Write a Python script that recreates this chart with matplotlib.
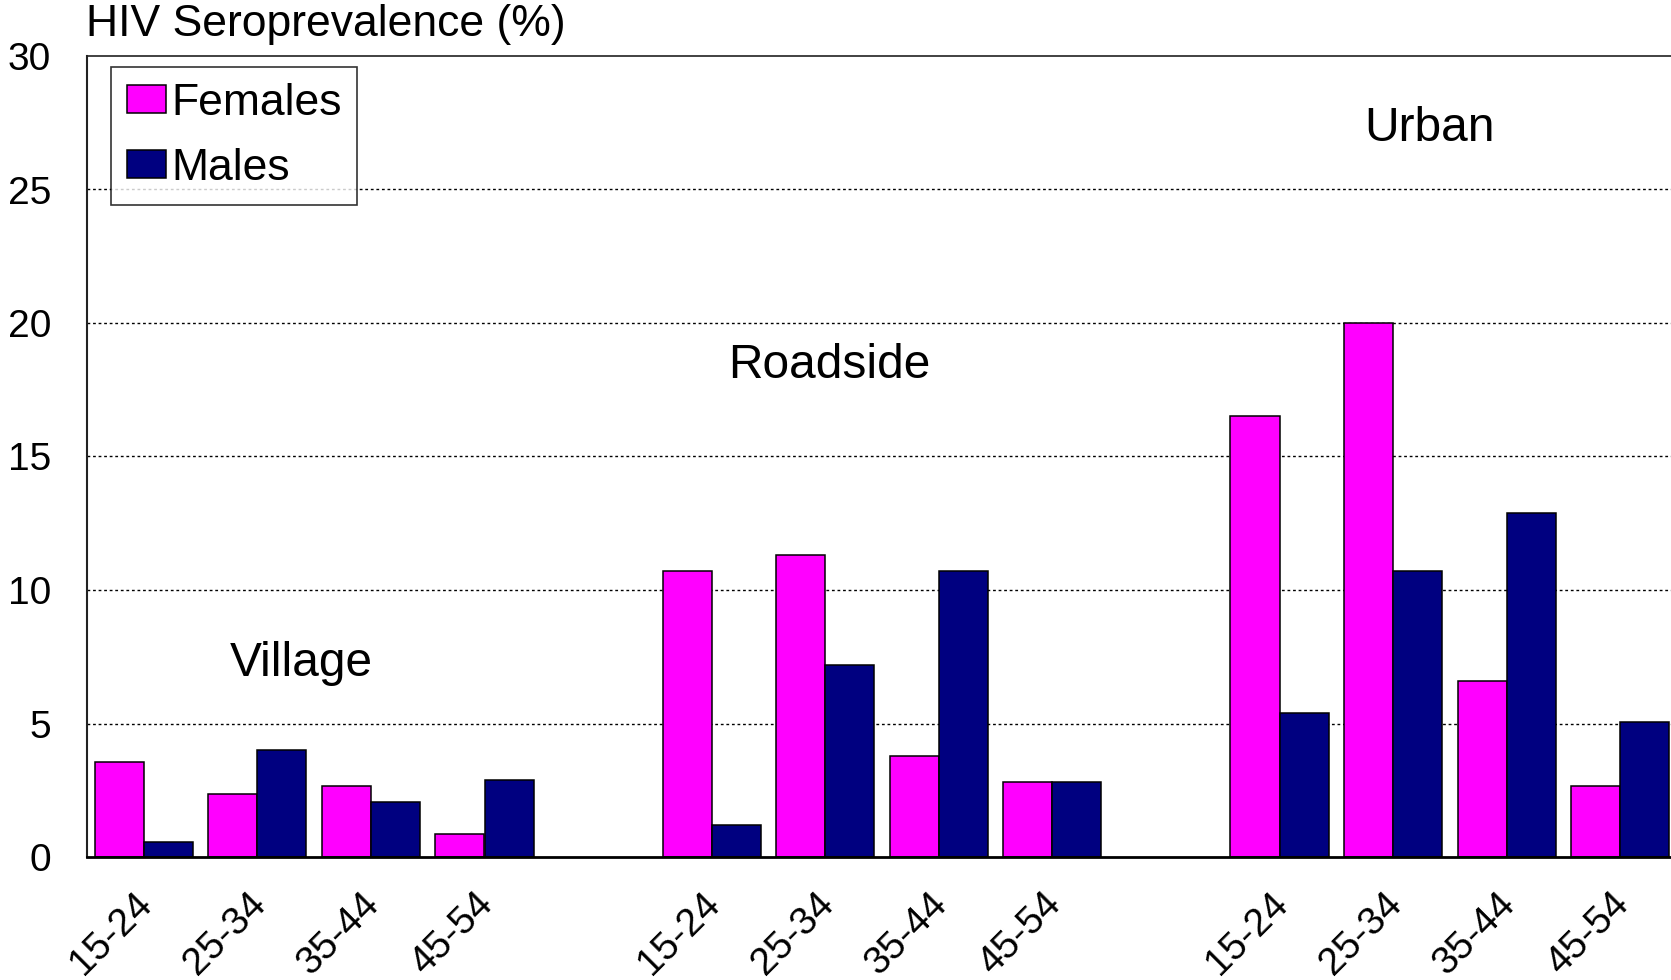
import matplotlib
matplotlib.use("Agg")
import matplotlib.pyplot as plt
import matplotlib.transforms as mtransforms
import numpy as np

plt.rcParams['font.family'] = ['Liberation Sans', 'DejaVu Sans']

settings = ['Village', 'Roadside', 'Urban']
ages = ['15-24', '25-34', '35-44', '45-54']
females = [3.55, 2.35, 2.65, 0.85,
           10.7, 11.3, 3.8, 2.8,
           16.5, 20.0, 6.6, 2.65]
males = [0.55, 4.0, 2.05, 2.9,
         1.2, 7.2, 10.7, 2.8,
         5.4, 10.7, 12.9, 5.05]
yticks = [0, 5, 10, 15, 20, 25, 30]

W, H = 1671, 980
fig = plt.figure(figsize=(W / 100, H / 100), dpi=100)
ax = fig.add_axes([87 / W, (H - 857) / H, 1590 / W, 801 / H])

x = np.array([i * (len(ages) + 1) + j for i in range(len(settings)) for j in range(len(ages))], dtype=float)
bw = 0.432
ax.bar(x - bw / 2, females, bw, color='#FF00FF', edgecolor='black', linewidth=1.1, label='Females', zorder=3)
ax.bar(x + bw / 2, males, bw, color='#000080', edgecolor='black', linewidth=1.1, label='Males', zorder=3)

ax.set_xlim(-0.5, x.max() + 0.5)
ax.set_ylim(0, 30)
ax.set_yticks(yticks)
ax.set_yticklabels([str(v) for v in yticks], fontsize=28)
ax.tick_params(axis='y', length=0, pad=26)

ax.set_xticks(x)
ax.set_xticklabels([a for _ in settings for a in ages], fontsize=28, rotation=45,
                   ha='right', va='center', rotation_mode='anchor')
ax.tick_params(axis='x', length=0, pad=30)
offset = mtransforms.ScaledTranslation(3 / 100, 0, fig.dpi_scale_trans)
for lab in ax.get_xticklabels():
    lab.set_transform(lab.get_transform() + offset)

for yv in yticks[1:-1]:
    ax.axhline(yv, color='black', linestyle=(0, (2, 2)), linewidth=1.0, zorder=1)
ax.axhline(yticks[-1], color='#333333', linestyle='-', linewidth=1.3, zorder=1, clip_on=False)

ax.spines['right'].set_visible(False)
ax.spines['top'].set_visible(False)
ax.spines['left'].set_color('#222222')
ax.spines['left'].set_linewidth(1.5)
ax.spines['bottom'].set_color('black')
ax.spines['bottom'].set_linewidth(2)
ax.spines['bottom'].set_zorder(4)

label_pos = [(1.39, 7.25), (6.04, 18.4), (11.32, 27.3)]
for name, (lx, ly) in zip(settings, label_pos):
    ax.text(lx, ly, name, fontsize=34.5, ha='center', va='center', zorder=5)

fig.text(86 / W, 1 - 36 / H, 'HIV Seroprevalence (%)', fontsize=32, ha='left', va='baseline')

leg = ax.legend(loc='upper left', bbox_to_anchor=(111 / W, 1 - 67 / H), bbox_transform=fig.transFigure,
                fontsize=32, frameon=True, fancybox=False, shadow=False, borderaxespad=0,
                handlelength=0.88, handleheight=0.58, handletextpad=0.12, labelspacing=0.55,
                borderpad=0.35)
leg.get_frame().set_edgecolor('black')
leg.get_frame().set_linewidth(1.2)
leg.set_zorder(6)

fig.savefig('out.png', dpi=100)
